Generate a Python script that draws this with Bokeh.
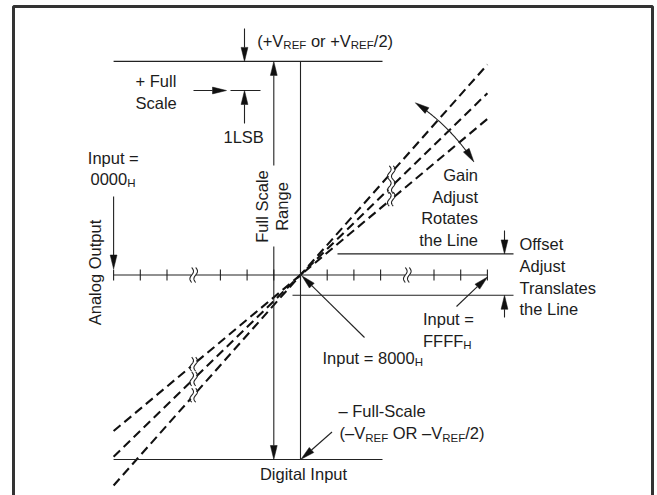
import numpy as np
from bokeh.plotting import figure
from bokeh.models import Range1d
from bokeh.core.properties import value
from bokeh.embed import file_html
from bokeh.resources import INLINE

# ---------------- data (diagram quantities, in code-step units) ----------------
tick_codes = [-7, -6, -5, -3, -2, -1, 0, 1, 2, 3, 5, 6, 7]   # digital input ticks
axis_breaks = [-4, 4]                                         # axis break marks
code_min, code_max = -7, 7
gain_slopes = [1.126, 0.973, 0.835]                           # three transfer lines
line_breaks = [-4.0, 3.4]                                     # breaks on transfer lines
full_scale_top = 8.0                                          # +VREF level
full_scale_bottom = -6.91                                     # -VREF level
plus_full_scale = 6.91                                        # + full scale (1 LSB below)
offset_levels = [0.79, -0.76]                                 # offset adjust levels

# ---------------- layout ----------------
S = 26.7            # pixels per code step
OX, OY = 300.0, 274.5
FX0, FY0 = 0, 0
WF, HF = 655, 495
FONT = "Liberation Sans"
MAIN, SUB, SUB_DROP = 16.5, 11.5, 4.2
TSHIFT = 5.5        # baseline correction (px, towards the glyph tops)
INK = "#1c1c1c"
LINE = "#222222"

def X(px):
    return (px - OX) / S

def Y(py):
    return (OY - py) / S

p = figure(width=WF, height=HF, output_backend="svg", toolbar_location=None,
           x_range=Range1d(X(FX0), X(FX0 + WF)), y_range=Range1d(Y(FY0 + HF), Y(FY0)),
           x_axis_type=None, y_axis_type=None, min_border=0,
           background_fill_color="white", border_fill_color="white")
p.grid.visible = False
p.outline_line_color = None

# Arial / Liberation Sans advance widths (per 1000 em)
AW = {' ': 278, '(': 333, ')': 333, '+': 584, '/': 278, '=': 584, '-': 333, '\u2013': 556,
      'A': 667, 'B': 667, 'C': 722, 'D': 722, 'E': 667, 'F': 611, 'G': 778, 'H': 722, 'I': 278,
      'L': 556, 'O': 778, 'R': 722, 'S': 667, 'T': 611, 'V': 667,
      'a': 556, 'c': 500, 'd': 556, 'e': 556, 'f': 278, 'g': 556, 'i': 222, 'j': 222, 'l': 222,
      'n': 556, 'o': 556, 'p': 556, 'r': 333, 's': 500, 't': 278, 'u': 556}
for d in "0123456789":
    AW[d] = 556

def tw(s, size):
    return sum(AW.get(c, 556) for c in s) * size / 1000.0

def runs_text(x_px, base_px, runs, align="left"):
    widths = [tw(t, SUB if sub else MAIN) for t, sub in runs]
    total = sum(widths)
    start = x_px - (total if align == "right" else total / 2 if align == "center" else 0)
    for (t, sub), w in zip(runs, widths):
        size = SUB if sub else MAIN
        stripped = t.lstrip(" ")
        lead = tw(t[:len(t) - len(stripped)], size)
        p.text(x=[X(start + lead)], y=[Y(base_px - TSHIFT + (SUB_DROP if sub else 0))], text=[stripped],
               text_font=value(FONT), text_font_size=f"{size}px", text_align="left",
               text_baseline="alphabetic", text_color=INK)
        start += w

def label(x_px, base_px, t, align="left", rotated=False):
    if rotated:
        x, y, ang = X(x_px - TSHIFT), Y(base_px), np.pi / 2
    else:
        x, y, ang = X(x_px), Y(base_px - TSHIFT), 0.0
    p.text(x=[x], y=[y], text=[t], angle=ang,
           text_font=value(FONT), text_font_size=f"{MAIN}px", text_align=align,
           text_baseline="alphabetic", text_color=INK)

# ---------------- frame ----------------
p.quad(left=[X(13)], right=[X(652)], top=[Y(6)], bottom=[Y(560)],
       fill_alpha=0, line_color="#333333", line_width=3)

seg_xs, seg_ys = [], []
tri_xs, tri_ys = [], []

def seg(x0, y0, x1, y1):
    seg_xs.append([x0, x1]); seg_ys.append([y0, y1])

HL, HW = 14.0 / S, 3.4 / S

def head(tx, ty, dx, dy):
    n = np.hypot(dx, dy); dx, dy = dx / n, dy / n
    bx, by = tx - dx * HL, ty - dy * HL
    px_, py_ = -dy * HW, dx * HW
    tri_xs.append([tx, bx + px_, bx - px_]); tri_ys.append([ty, by + py_, by - py_])
    return bx, by

def arrow(x0, y0, x1, y1):
    bx, by = head(x1, y1, x1 - x0, y1 - y0)
    seg(x0, y0, bx, by)

# ---------------- axes ----------------
g = 2.2 / S
edges = [code_min] + [v for b in axis_breaks for v in (b - g, b + g)] + [code_max]
for a, b in zip(edges[0::2], edges[1::2]):
    seg(a, 0, b, 0)
th = 5.5 / S
for t in tick_codes:
    seg(t, -th, t, th)
seg(0, full_scale_bottom, 0, full_scale_top)
ref_x_end = X(382)
seg(code_min, full_scale_top, ref_x_end, full_scale_top)
seg(code_min, full_scale_bottom, ref_x_end, full_scale_bottom)
seg(X(230), plus_full_scale, X(260), plus_full_scale)
seg(X(337), offset_levels[0], X(513), offset_levels[0])
seg(X(292), offset_levels[1], X(513), offset_levels[1])

def squiggle(cx, cy, h_px=15.0, a_px=1.8, sep_px=4.0):
    t = np.linspace(-0.5, 0.5, 25)
    for off in (-sep_px / 2, sep_px / 2):
        xs = cx + (off + a_px * np.sin(2 * np.pi * t)) / S
        ys = cy + (t * h_px) / S
        seg_xs.append(list(xs)); seg_ys.append(list(ys))

for b in axis_breaks:
    squiggle(b, 0, h_px=15.0)

# ---------------- transfer lines ----------------
lg = 3.0 / S
dash_xs, dash_ys = [], []
for m in gain_slopes:
    e = [code_min] + [v for b in line_breaks for v in (b - lg, b + lg)] + [code_max]
    for a, b in zip(e[0::2], e[1::2]):
        dash_xs.append([a, b]); dash_ys.append([m * a, m * b])
    for b in line_breaks:
        squiggle(b, m * b, h_px=14.0)
p.multi_line(xs=dash_xs, ys=dash_ys, line_color="#111111", line_width=2.1, line_dash="9 5")

# ---------------- arrows ----------------
arrow(X(244), Y(28), X(244), full_scale_top)          # to +VREF line
arrow(X(244), Y(123), X(244), plus_full_scale)        # 1LSB
arrow(X(193), plus_full_scale, X(226), plus_full_scale)
arrow(-1, Y(165), -1, full_scale_top)                  # full scale range
arrow(-1, Y(246), -1, full_scale_bottom)
arrow(code_min, Y(196), code_min, Y(268.5))            # input = 0000H
arrow(X(364), Y(337), 0.05, -0.03)                     # input = 8000H
arrow(X(456), Y(306), X(487), Y(276.5))                # input = FFFFH
arrow(X(331.5), Y(431.5), X(300.5), full_scale_bottom + 0.01)
arrow(X(504), Y(230), X(504), offset_levels[0])        # offset adjust
arrow(X(504), Y(317), X(504), offset_levels[1])

# gain adjust curved double arrow (arc about the origin)
R = 207.0 / S
t0, t1 = np.radians(33.1), np.radians(56.3)
d = HL / R
head(R * np.cos(t1), R * np.sin(t1), -np.sin(t1), np.cos(t1))
head(R * np.cos(t0), R * np.sin(t0), np.sin(t0), -np.cos(t0))
th_arc = np.linspace(t0 + d, t1 - d, 40)
seg_xs.append(list(R * np.cos(th_arc))); seg_ys.append(list(R * np.sin(th_arc)))

p.multi_line(xs=seg_xs, ys=seg_ys, line_color=LINE, line_width=1.1)
p.patches(xs=tri_xs, ys=tri_ys, fill_color="#111111", line_color="#111111", line_width=0.5)

# ---------------- texts ----------------
runs_text(256.7, 46, [("(+V", False), ("REF", True), (" or +V", False), ("REF", True), ("/2)", False)])
label(135, 86, "+ Full")
label(135, 107.5, "Scale")
label(223, 141.5, "1LSB")
label(87.3, 163, "Input =")
runs_text(90, 184, [("0000", False), ("H", True)])
label(100, 272, "Analog Output", align="center", rotated=True)
label(266.5, 206, "Full Scale", align="center", rotated=True)
label(286.5, 206, "Range", align="center", rotated=True)
for i, t in enumerate(["Gain", "Adjust", "Rotates", "the Line"]):
    label(477.5, 180 + 21.6 * i, t, align="right")
for i, t in enumerate(["Offset", "Adjust", "Translates", "the Line"]):
    label(519, 249.3 + 21.6 * i, t)
label(422.5, 324, "Input =")
runs_text(422.5, 346, [("FFFF", False), ("H", True)])
runs_text(422.5, 363, [("Input = 8000", False), ("H", True)], align="right")
label(338, 416, "\u2013 Full-Scale")
runs_text(339, 438.3, [("(\u2013V", False), ("REF", True), (" OR \u2013V", False), ("REF", True), ("/2)", False)])
label(303, 479, "Digital Input", align="center")

open("out.html", "w").write(file_html(p, INLINE))
